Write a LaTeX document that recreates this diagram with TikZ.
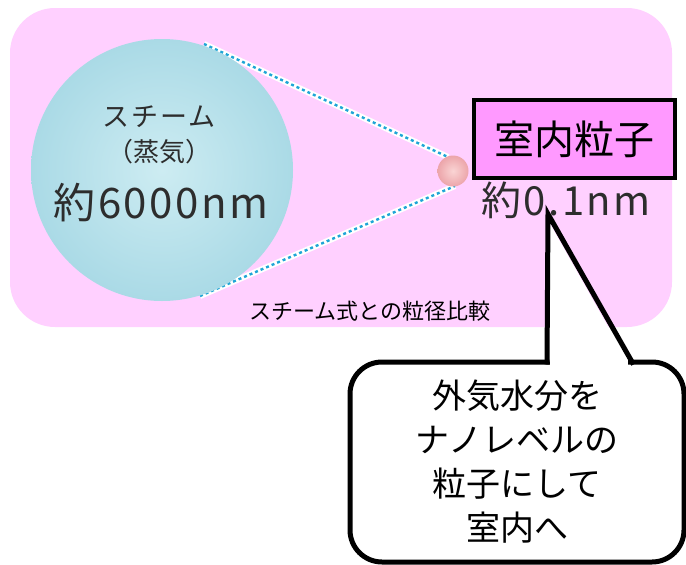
\documentclass[tikz,border=0pt]{standalone}
\usepackage{fontspec}
\setmainfont{Noto Sans CJK JP}
\usetikzlibrary{calc,fadings}
\definecolor{bgpink}{RGB}{255,208,255}
\definecolor{boxpink}{RGB}{255,153,255}
\definecolor{steamA}{RGB}{205,236,242}
\definecolor{steamB}{RGB}{170,218,230}
\definecolor{steamY}{RGB}{236,246,212}
\definecolor{guideblue}{RGB}{30,165,215}
\definecolor{dropA}{RGB}{250,212,212}
\definecolor{dropB}{RGB}{236,165,170}
\definecolor{inktext}{RGB}{45,45,45}
\newcommand\fsz[2]{\fontsize{#1}{#2}\selectfont}
\tikzfading[name=softspot, inner color=transparent!0, outer color=transparent!100]

\begin{document}
\begin{tikzpicture}[x=1pt, y=-1pt,
  halo/.style={white, line width=6pt},
  guide/.style={guideblue, line width=2.4pt, dash pattern=on 3pt off 3pt},
  ink/.style={text=inktext, inner sep=0pt},
  outline/.style={black, line width=5pt, line join=miter}]
\useasboundingbox (0,0) rectangle (686,565);

% pink panel
\fill[bgpink, rounded corners=45pt] (10,8) rectangle (672,327);

% guide lines between the two droplets (ends tucked under the droplets)
\coordinate (gtA) at (204,44);
\coordinate (gbA) at (200,296);
\coordinate (gtB) at (448,157);
\coordinate (gbB) at (455,186);
\draw[halo] (gtA) -- (gtB);
\draw[halo] (gbA) -- (gbB);
\draw[guide] (gtA) -- (gtB);
\draw[guide] (gbA) -- (gbB);

% steam droplet
\node[circle, minimum size=262pt, inner sep=0pt,
      inner color=steamA, outer color=steamB,
      path picture={
        \fill[steamY, path fading=softspot] (95,262) circle (95pt);
        \fill[white, opacity=0.45, path fading=softspot] (190,40) circle (45pt);
      }] (steam) at (162,170) {};

% indoor particle droplet
\node[circle, minimum size=31pt, inner sep=0pt,
      inner color=dropA, outer color=dropB] (drop) at (453,171) {};

% texts inside the steam droplet
\node[ink] (steamname) at (159,117) {\fsz{27}{27}\addfontfeature{LetterSpace=8}スチーム};
\node[ink] (steamkanji) at (159,152) {\fsz{26}{26}（蒸気）};
\node[ink] (steamsize) at (161,203) {\fsz{42}{42}\addfontfeature{LetterSpace=6}約6000nm};

% indoor particle title and size
\node[draw=black, line width=4pt, fill=boxpink, minimum width=201pt,
      minimum height=78pt, inner sep=0pt] (room) at (574.5,139) {\fsz{40}{40}室内粒子};
\node[ink] (roomsize) at (566,200) {\fsz{40}{40}\addfontfeature{LetterSpace=6}約0.1nm};

% caption
\node[inner sep=0pt] (caption) at (370,311) {\fsz{22}{22}スチーム式との粒径比較};

% speech balloon
\node[draw=black, line width=5pt, rounded corners=32pt, fill=white,
      minimum width=334pt, minimum height=200pt, align=center, inner sep=0pt,
      font=\fsz{34}{44}]
      (note) at (517,462)
      {外気水分を\\ナノレベルの\\粒子にして\\室内へ};
\coordinate (tailL) at (547,362);
\coordinate (tailR) at (632,362);
\coordinate (tip) at (548,214);
% open the balloon's top edge under the tail
\fill[white] ($(tailL)+(2.5,-4)$) rectangle ($(tailR)+(-4,4)$);
\fill[white] ($(tailL)+(2.5,0)$) -- ($(tip)+(1,8)$) -- ($(tailR)+(-4,0)$) -- cycle;
\draw[outline] ($(tailL)+(0,2.5)$) -- (tip) -- ($(tailR)+(1.5,2.5)$);
\end{tikzpicture}
\end{document}
